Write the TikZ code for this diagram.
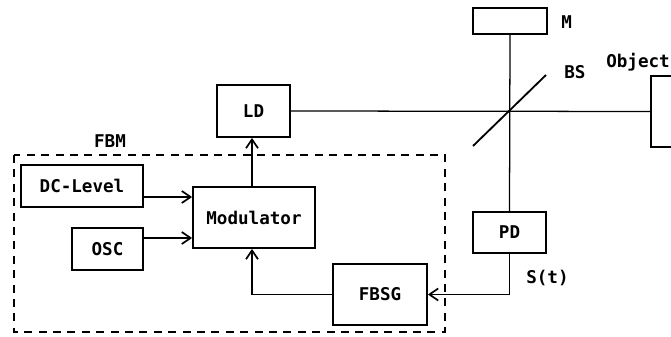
\documentclass[tikz,border=0pt]{standalone}
\usepackage{fontspec}
\setmainfont{DejaVu Sans Mono}
\usetikzlibrary{arrows.meta,calc}
\tikzset{
  blk/.style={rectangle, draw=black, line width=1.3pt, fill=white, inner sep=0pt,
              align=center, font=\fontsize{12.5}{14}\selectfont\bfseries},
  ar/.style={-{Straight Barb[length=2.2mm,width=3mm,line width=1.2pt]}, line width=0.9pt},
  ln/.style={line width=0.9pt},
  lbl/.style={font=\fontsize{12.5}{14}\selectfont\bfseries, inner sep=0pt},
}

\begin{document}
\begin{tikzpicture}[x=0.25mm,y=-0.25mm]
\clip (0,0) rectangle (671,337);
\fill[white] (0,0) rectangle (671,337);

% FBM frame
\draw[line width=0.9pt, dash pattern=on 2mm off 1.6mm] (14,155) rectangle (445,332);
\node[lbl] (fbm) at (110,141) {FBM};

% blocks
\node[blk, minimum width=18.25mm, minimum height=13mm] (ld) at (253.5,111) {LD};
\node[blk, minimum width=18.5mm, minimum height=6.5mm] (mir) at (510,21) {};
\node[blk, minimum width=18.25mm, minimum height=10.25mm] (pd) at (509.5,232.5) {PD};
\node[blk, minimum width=23.5mm, minimum height=15.25mm] (fbsg) at (380,294.5) {FBSG};
\node[blk, minimum width=30.5mm, minimum height=15.25mm] (mod) at (254,217.5) {Modulator};
\node[blk, minimum width=30.5mm, minimum height=10.5mm] (dcl) at (82,186) {DC-Level};
\node[blk, minimum width=17.75mm, minimum height=10.5mm] (osc) at (107.5,249) {OSC};
\node[blk, minimum width=25mm, minimum height=17.75mm] (obj) at (701,111.5) {};

% labels
\node[lbl, anchor=west] (mlbl) at (561,22) {M};
\node[lbl, anchor=west] (bslbl) at (564,72) {BS};
\node[lbl, anchor=west] (objlbl) at (606,62) {Object};
\node[lbl, anchor=west] (slbl) at (526,278) {S(t)};

% optics
\coordinate (bs) at (508,111);
\draw[ln] (ld.east) -- (obj.west);
\draw[ln] (mir.south) -- (pd.north);
\draw[line width=1.3pt] (473,146) -- (546,75);

% signals
\draw[ar] ($(dcl.east)+(0,11)$) -- ($(mod.west)+(0,-20.5)$);
\draw[ar] ($(osc.east)+(0,-11)$) -- ($(mod.west)+(0,20.5)$);
\draw[ar] ($(mod.north)+(-2,0)$) -- ($(ld.south)+(-1.5,0)$);
\draw[ar] (pd.south) |- (fbsg.east);
\draw[ar] (fbsg.west) -| ($(mod.south)+(-2,0)$);
\end{tikzpicture}
\end{document}
